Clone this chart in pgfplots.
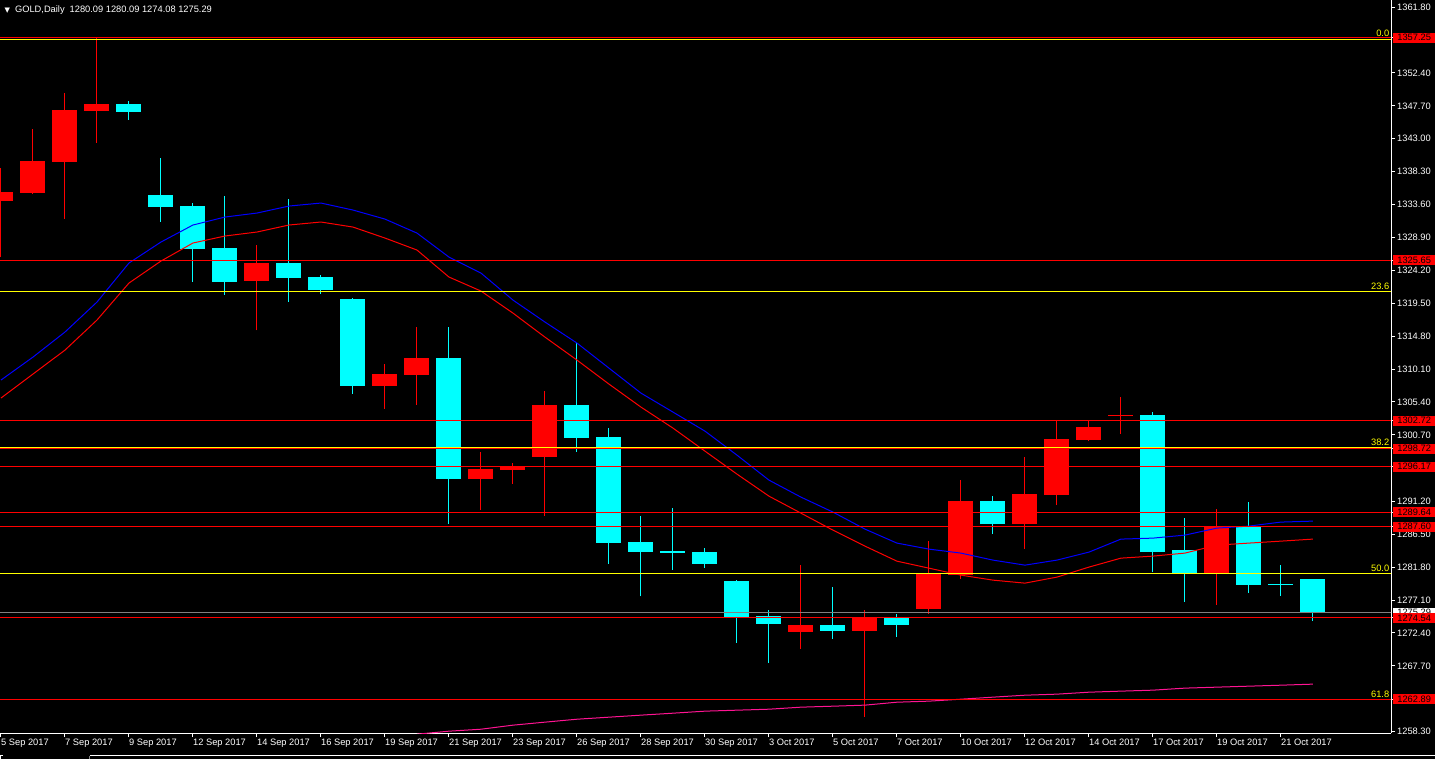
\documentclass[border=0pt]{standalone}
\usepackage{pgfplots}
\pgfplotsset{compat=1.18}
\usepackage{pgfplotstable}
\usepackage{fontspec}
\setmainfont{Liberation Sans}
\newfontfamily\dejavu{DejaVu Sans}
\definecolor{mtcyan}{RGB}{0,255,255}
\definecolor{mtred}{RGB}{255,0,0}
\definecolor{mtblue}{RGB}{0,0,255}
\definecolor{mtpink}{RGB}{255,20,147}
\definecolor{mtyellow}{RGB}{255,255,0}
\definecolor{mtgray}{RGB}{128,128,128}
\newcommand\mt{\fontsize{9.3bp}{11bp}\selectfont}

% daily candles, x = bar index (0 = 5 Sep 2017)
\pgfplotstableread{
x o h l c
0 1334.14 1338.81 1326.09 1335.38
1 1335.28 1344.39 1335.10 1339.81
2 1339.71 1349.57 1331.57 1347.10
3 1347.00 1357.50 1342.39 1347.96
8 1322.71 1327.81 1315.62 1325.24
12 1307.70 1310.80 1304.42 1309.38
13 1309.28 1316.09 1304.99 1311.66
15 1294.37 1298.23 1289.98 1295.80
16 1295.66 1296.66 1293.70 1296.23
17 1297.56 1306.95 1289.13 1304.95
25 1272.55 1282.08 1270.12 1273.51
27 1272.69 1275.65 1260.40 1274.65
29 1275.79 1285.51 1275.12 1280.89
30 1280.69 1294.23 1280.08 1291.23
32 1287.94 1297.51 1284.37 1292.23
33 1292.09 1302.70 1290.66 1300.09
34 1299.95 1302.66 1299.80 1301.80
35 1303.45 1306.09 1300.84 1303.59
38 1280.89 1290.08 1276.41 1287.51
}\bull

\pgfplotstableread{
x o h l c
4 1347.96 1348.39 1345.71 1346.82
5 1334.96 1340.24 1331.14 1333.28
6 1333.38 1333.77 1322.56 1327.24
7 1327.38 1334.81 1320.71 1322.56
9 1325.24 1334.38 1319.71 1323.14
10 1323.24 1323.52 1320.85 1321.42
11 1320.09 1320.20 1306.56 1307.70
14 1311.66 1316.09 1287.98 1294.37
18 1304.95 1313.76 1298.27 1300.27
19 1300.37 1301.66 1282.27 1285.27
20 1285.37 1289.08 1277.61 1283.98
21 1284.12 1290.23 1281.41 1283.84
22 1283.94 1284.51 1281.70 1282.27
23 1279.80 1279.94 1270.98 1274.69
24 1274.79 1275.65 1268.12 1273.69
26 1273.51 1278.94 1271.55 1272.69
28 1274.55 1275.08 1271.84 1273.55
31 1291.23 1291.94 1286.51 1287.94
36 1303.52 1303.95 1281.08 1283.94
37 1284.23 1288.80 1276.84 1280.89
39 1287.51 1291.09 1278.12 1279.27
40 1279.40 1282.08 1277.70 1279.25
41 1280.09 1280.09 1274.08 1275.29
}\bear

% moving averages
\pgfplotstableread{
x fast slow
0 1308.52 1305.95
1 1311.80 1309.38
2 1315.38 1312.80
3 1319.66 1317.09
4 1325.24 1322.38
5 1328.24 1325.52
6 1330.67 1328.10
7 1331.81 1329.10
8 1332.38 1329.67
9 1333.38 1330.67
10 1333.81 1331.10
11 1332.81 1330.38
12 1331.52 1328.81
13 1329.52 1327.10
14 1326.09 1323.24
15 1323.81 1321.24
16 1319.95 1318.09
17 1316.81 1314.66
18 1313.81 1311.38
19 1310.23 1307.95
20 1306.66 1304.66
21 1303.95 1301.66
22 1301.23 1298.37
23 1297.80 1295.09
24 1294.23 1291.94
25 1291.80 1289.51
26 1289.66 1287.08
27 1287.23 1284.80
28 1285.23 1282.65
29 1284.37 1281.65
30 1283.80 1280.65
31 1282.80 1279.94
32 1282.08 1279.51
33 1282.80 1280.37
34 1283.94 1281.80
35 1285.80 1283.08
36 1285.94 1283.37
37 1286.37 1283.80
38 1287.37 1284.94
39 1287.66 1285.23
40 1288.23 1285.51
41 1288.37 1285.80
}\ma

\pgfplotstableread{
x long
13 1257.93
14 1258.36
15 1258.64
16 1259.22
17 1259.65
18 1260.07
19 1260.36
20 1260.65
21 1260.93
22 1261.22
23 1261.36
24 1261.50
25 1261.79
26 1261.93
27 1262.08
28 1262.50
29 1262.65
30 1262.93
31 1263.22
32 1263.50
33 1263.65
34 1263.93
35 1264.08
36 1264.22
37 1264.51
38 1264.65
39 1264.79
40 1264.93
41 1265.08
}\malong

\begin{document}
\begin{tikzpicture}[x=1bp,y=1bp]
\fill[black] (0,-26) rectangle (1435,733);
% bid line label, partly hidden behind the 1274.54 box
\node[fill=white, text=black, font=\mt, anchor=west, inner xsep=0pt, inner ysep=1.75bp,
  text height=6.5bp, text depth=0pt, minimum width=42.5bp] at (1392.7,120.3) {1275.29};

\begin{axis}[
  at={(0,0)}, anchor=south west,
  scale only axis, width=1391bp, height=733bp,
  xmin=-0.03, xmax=43.44, ymin=1258.1, ymax=1362.82,
  axis x line*=bottom, axis y line*=right,
  axis line style={white, line width=1bp},
  tick align=outside, major tick length=4bp,
  tick style={white, line width=1bp},
  xtick={0,2,...,40},
  xticklabels={5 Sep 2017,7 Sep 2017,9 Sep 2017,12 Sep 2017,14 Sep 2017,16 Sep 2017,
    19 Sep 2017,21 Sep 2017,23 Sep 2017,26 Sep 2017,28 Sep 2017,30 Sep 2017,
    3 Oct 2017,5 Oct 2017,7 Oct 2017,10 Oct 2017,12 Oct 2017,14 Oct 2017,
    17 Oct 2017,19 Oct 2017,21 Oct 2017},
  xticklabel style={anchor=north west, inner sep=0pt, text=white, font=\mt, yshift=-2bp},
  ytick={1361.80,1352.40,1347.70,1343.00,1338.30,1333.60,1328.90,1324.20,1319.50,
    1314.80,1310.10,1305.40,1300.70,1291.20,1286.50,1281.80,1277.10,1272.40,1267.70,1258.30},
  yticklabels={1361.80,1352.40,1347.70,1343.00,1338.30,1333.60,1328.90,1324.20,1319.50,
    1314.80,1310.10,1305.40,1300.70,1291.20,1286.50,1281.80,1277.10,1272.40,1267.70,1258.30},
  yticklabel style={anchor=west, inner sep=0pt, text=white, font=\mt, xshift=2bp},
  extra y ticks={1357.46,1325.65,1302.72,1298.72,1296.17,1289.64,1287.60,1274.54,1262.89},
  extra y tick labels={1357.25,1325.65,1302.72,1298.72,1296.17,1289.64,1287.60,1274.54,1262.89},
  extra y tick style={yticklabel style={fill=mtred, text=black, minimum width=42.5bp,
    text height=6.5bp, text depth=0pt, inner ysep=1.75bp, inner xsep=0pt, xshift=-4.3bp}},
]
% wicks
\addplot[draw=none, mark=none, forget plot, error bars/.cd, y dir=plus, y explicit,
  error mark=none, error bar style={draw=mtred, line width=1bp}]
  table[x=x, y=l, y error expr=\thisrow{h}-\thisrow{l}] {\bull};
\addplot[draw=none, mark=none, forget plot, error bars/.cd, y dir=plus, y explicit,
  error mark=none, error bar style={draw=mtcyan, line width=1bp}]
  table[x=x, y=l, y error expr=\thisrow{h}-\thisrow{l}] {\bear};
% bodies
\addplot[draw=none, mark=none, forget plot, error bars/.cd, y dir=plus, y explicit,
  error mark=none, error bar style={draw=mtred, line width=25bp}]
  table[x=x, y=o, y error expr=\thisrow{c}-\thisrow{o}] {\bull};
\addplot[draw=none, mark=none, forget plot, error bars/.cd, y dir=plus, y explicit,
  error mark=none, error bar style={draw=mtcyan, line width=25bp}]
  table[x=x, y=c, y error expr=\thisrow{o}-\thisrow{c}] {\bear};
% moving averages
\addplot[mtblue, line width=1bp, mark=none] table[x=x, y=fast] {\ma};
\addplot[mtred, line width=1bp, mark=none] table[x=x, y=slow] {\ma};
\addplot[mtpink, line width=1bp, mark=none] table[x=x, y=long] {\malong};
% fibonacci levels
\pgfplotsinvokeforeach{1357.18,1321.19,1298.90,1280.94}{
  \addplot[mtyellow, line width=1bp, mark=none] coordinates {(-1,#1) (45,#1)};
}
% bid line
\addplot[mtgray, line width=1bp, mark=none] coordinates {(-1,1275.29) (45,1275.29)};
% horizontal price lines
\pgfplotsinvokeforeach{1357.46,1325.65,1302.72,1298.73,1296.17,1289.64,1287.60,1274.54,1262.89}{
  \addplot[mtred, line width=1bp, mark=none] coordinates {(-1,#1) (45,#1)};
}
\node[anchor=south east, text=mtyellow, font=\mt, inner sep=0pt] at (axis cs:43.39,1357.55) {0.0};
\node[anchor=south east, text=mtyellow, font=\mt, inner sep=0pt] at (axis cs:43.39,1321.45) {23.6};
\node[anchor=south east, text=mtyellow, font=\mt, inner sep=0pt] at (axis cs:43.39,1299.15) {38.2};
\node[anchor=south east, text=mtyellow, font=\mt, inner sep=0pt] at (axis cs:43.39,1281.20) {50.0};
\node[anchor=south east, text=mtyellow, font=\mt, inner sep=0pt] at (axis cs:43.39,1263.15) {61.8};
\end{axis}

\node[anchor=west, text=white, font=\mt, inner sep=0pt] at (4.5,723)
  {{\dejavu\fontsize{7bp}{8bp}\selectfont ▼}\hspace{5bp}GOLD,Daily\hspace{5bp}1280.09 1280.09 1274.08 1275.29};
\draw[white, line width=1bp] (90,-22.5) -- (1435,-22.5);
\draw[white, line width=1bp] (0.5,-26) -- (0.5,-22.5) -- (3,-22.5);
\draw[mtgray, line width=1bp] (89.5,-26) -- (89.5,-22.5);
\pgfresetboundingbox
\useasboundingbox (0,-26) rectangle (1435,733);
\end{tikzpicture}
\end{document}
